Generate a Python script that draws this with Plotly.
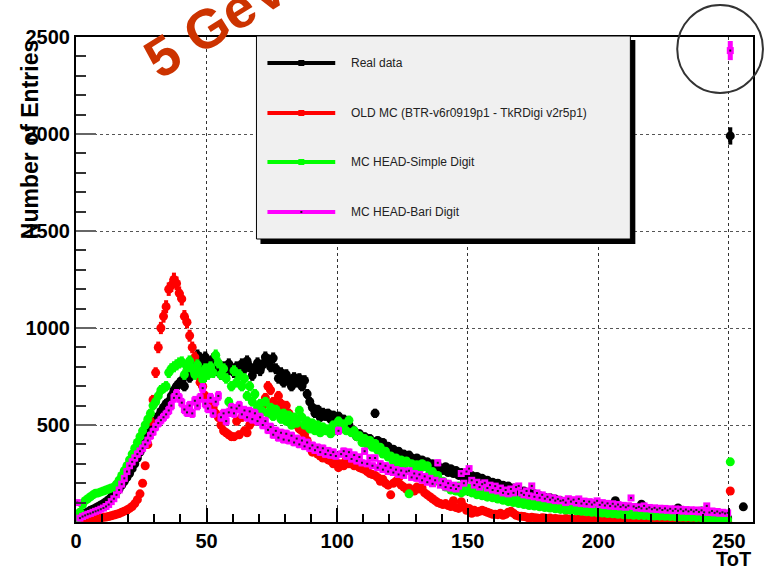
import plotly.graph_objects as go

# ---------------- data (ToT histogram, bins 0..255) ----------------
tot_bins = list(range(256))

real_data = [
    20, 30, 38, 45, 52, 60, 66, 72, 80, 88,
    95, 105, 115, 128, 140, 155, 170, 190, 210, 230,
    250, 275, 300, 330, 360, 390, 420, 450, 475, 500,
    520, 545, 570, 590, 610, 620, 650, 680, 700, 715,
    730, 700, 770, 745, 800, 830, 860, 845, 815, 850,
    825, 790, 840, 780, 815, 760, 800, 770, 815, 790,
    770, 800, 760, 815, 790, 830, 800, 755, 790, 820,
    780, 810, 850, 835, 800, 845, 790, 740, 770, 720,
    760, 730, 700, 745, 720, 740, 700, 730, 660, 620,
    590, 560, 580, 540, 565, 545, 560, 530, 550, 520,
    545, 510, 530, 490, 500, 465, 470, 440, 455, 430,
    440, 420, 430, 405, 560, 420, 395, 410, 380, 390,
    360, 375, 350, 365, 340, 350, 320, 345, 330, 310,
    330, 300, 320, 295, 310, 280, 300, 275, 290, 270,
    265, 285, 255, 275, 250, 265, 240, 255, 225, 250,
    230, 240, 215, 235, 210, 225, 200, 215, 195, 205,
    190, 200, 180, 190, 170, 185, 160, 175, 150, 165,
    150, 160, 140, 150, 135, 145, 125, 135, 118, 128,
    115, 125, 105, 118, 100, 110, 95, 105, 90, 98,
    88, 96, 82, 92, 80, 88, 76, 85, 74, 82,
    72, 80, 70, 78, 68, 75, 110, 72, 64, 70,
    62, 70, 60, 68, 58, 66, 92, 64, 56, 63,
    55, 62, 54, 60, 52, 58, 50, 57, 48, 56,
    72, 54, 46, 52, 45, 50, 44, 49, 42, 57,
    40, 46, 38, 44, 36, 42, 34, 30, 26, 21,
    1990, None, None, None, None, 78,
]

old_mc = [
    5, 8, 10, 12, 14, 15, 17, 18, 20, 22,
    24, 26, 28, 32, 36, 40, 44, 50, 56, 62,
    70, 80, 95, 115, 145, 200, 290, 400, 520, 630,
    770, 900, 1000, 1060, 1110, 1200, 1220, 1250, 1230, 1180,
    1150, 1060, 1030, 960, 900, 850, 760, 720, 700, 650,
    640, 610, 590, 560, 540, 500, 470, 460, 450, 440,
    440, 520, 450, 540, 470, 460, 500, 560, 520, 540,
    560, 600, 640, 700, 680, 620, 600, 650, 610, 580,
    600, 560, 540, 520, 500, 480, 470, 450, 420, 390,
    360, 380, 350, 340, 330, 345, 320, 315, 300, 310,
    280, 300, 290, 320, 300, 330, 290, 300, 280, 275,
    270, 260, 250, 245, 240, 230, 210, 220, 200, 190,
    140, 200, 210, 225, 190, 180, 170, 175, 165, 160,
    180, 170, 175, 150, 140, 130, 120, 110, 100, 95,
    90, 95, 85, 80, 110, 75, 70, 105, 80, 60,
    70, 45, 60, 50, 55, 60, 55, 50, 45, 40,
    40, 38, 45, 35, 40, 50, 55, 45, 35, 30,
    30, 28, 25, 20, 25, 22, 20, 18, 22, 20,
    18, 20, 15, 18, 16, 15, 14, 18, 15, 12,
    14, 12, 15, 13, 12, 10, 14, 12, 10, 12,
    10, 12, 14, 10, 9, 11, 10, 12, 9, 8,
    10, 9, 8, 12, 9, 8, 10, 7, 9, 8,
    8, 10, 7, 8, 9, 6, 8, 7, 6, 8,
    7, 6, 8, 6, 7, 5, 6, 7, 5, 6,
    5, 6, 5, 4, 6, 5, 4, 5, 4, 3,
    160, None, None, None, None, None,
]

simple_digit = [
    15, 50, 90, 110, 120, 130, 140, 148, 150, 155,
    160, 165, 170, 175, 180, 195, 215, 240, 265, 290,
    320, 350, 380, 410, 440, 470, 500, 530, 560, 600,
    620, 650, 680, 690, 700, 770, 790, 800, 810, 820,
    825, 760, 800, 830, 790, 760, 810, 770, 735, 790,
    760, 800, 770, 860, 820, 760, 790, 740, 620, 700,
    780, 720, 760, 700, 740, 650, 700, 620, 660, 590,
    610, 570, 620, 560, 590, 545, 580, 560, 530, 560,
    520, 550, 500, 540, 510, 575, 540, 500, 520, 480,
    510, 470, 500, 460, 490, 470, 480, 455, 500, 470,
    520, 480, 505, 470, 525, 460, 470, 440, 445, 410,
    430, 400, 420, 385, 405, 370, 385, 350, 365, 335,
    340, 310, 330, 300, 320, 290, 315, 145, 300, 280,
    295, 270, 300, 285, 290, 255, 260, 230, 240, 200,
    210, 180, 195, 165, 180, 160, 185, 150, 178, 160,
    175, 150, 168, 140, 162, 135, 155, 128, 150, 125,
    140, 118, 135, 112, 128, 105, 122, 100, 115, 95,
    110, 90, 105, 85, 100, 82, 96, 78, 92, 75,
    88, 72, 84, 68, 80, 65, 77, 62, 74, 60,
    70, 58, 67, 55, 64, 53, 62, 50, 60, 48,
    57, 46, 55, 44, 53, 42, 51, 40, 49, 38,
    47, 37, 45, 35, 44, 34, 42, 33, 41, 32,
    40, 31, 38, 30, 37, 29, 36, 28, 35, 27,
    34, 26, 33, 25, 31, 24, 30, 23, 28, 22,
    27, 21, 25, 20, 23, 18, 21, 16, 18, 12,
    310, None, None, None, None, None,
]

bari_digit = [
    100, 20, 28, 34, 40, 44, 50, 55, 60, 66,
    72, 80, 90, 105, 120, 140, 165, 195, 225, 260,
    290, 310, 330, 350, 365, 380, 400, 420, 445, 465,
    490, 510, 525, 540, 555, 575, 600, 640, 660, 640,
    615, 580, 565, 600, 560, 625, 600, 640, 690, 610,
    585, 640, 560, 620, 650, 540, 560, 520, 565, 590,
    560, 585, 600, 555, 575, 540, 570, 530, 560, 520,
    540, 500, 520, 475, 490, 450, 470, 435, 460, 425,
    455, 420, 445, 410, 430, 400, 420, 390, 410, 380,
    395, 370, 385, 360, 380, 350, 368, 345, 360, 340,
    470, 350, 365, 340, 360, 325, 345, 315, 335, 305,
    365, 300, 330, 290, 330, 280, 300, 270, 290, 260,
    280, 255, 270, 245, 265, 240, 260, 264, 230, 250,
    225, 245, 215, 235, 205, 225, 197, 215, 305, 190,
    210, 180, 200, 175, 190, 170, 185, 250, 200, 260,
    275, 215, 190, 205, 180, 195, 202, 175, 190, 165,
    185, 160, 175, 150, 165, 145, 170, 150, 180, 186,
    150, 140, 160, 135, 186, 130, 150, 125, 140, 120,
    130, 115, 125, 110, 118, 109, 112, 100, 120, 105,
    115, 98, 119, 95, 108, 92, 105, 90, 100, 109,
    88, 100, 85, 96, 82, 94, 80, 90, 78, 86,
    76, 84, 124, 80, 72, 78, 70, 83, 68, 75,
    66, 73, 64, 71, 62, 70, 60, 68, 58, 67,
    58, 66, 56, 64, 55, 63, 54, 62, 52, 60,
    50, 83, 49, 57, 47, 54, 45, 50, 44, 47,
    2430, None, None, None, None, None,
]

series_names = ["Real data", "OLD MC (BTR-v6r0919p1 - TkRDigi v2r5p1)",
                "MC HEAD-Simple Digit", "MC HEAD-Bari Digit"]
series_colors = ["#000000", "#ff0000", "#00ff00", "#ff00ff"]

# ---------------- figure ----------------
W, H = 764, 569
L, R, T, B = 76, 755, 37, 522


def px(x):
    return (x - L) / (R - L)


def py(y):
    return (B - y) / (B - T)


centers = [b + 0.5 for b in tot_bins]


def errs(vals):
    return [None if v is None else v ** 0.5 for v in vals]


fig = go.Figure()
all_series = [real_data, old_mc, simple_digit, bari_digit]
for i, vals in enumerate(all_series[:3]):
    fig.add_trace(go.Scatter(
        x=centers, y=vals, mode="markers", name=series_names[i],
        marker=dict(symbol="circle", size=9, color=series_colors[i]),
        error_y=dict(type="data", array=errs(vals), thickness=4, width=0,
                     color=series_colors[i]),
        showlegend=False))

fig.add_trace(go.Scatter(
    x=centers, y=bari_digit, mode="markers", name=series_names[3],
    marker=dict(symbol="square", size=7, color=series_colors[3]),
    error_y=dict(type="data", array=errs(bari_digit), thickness=5, width=0,
                 color=series_colors[3]),
    showlegend=False))
fig.add_trace(go.Scatter(
    x=centers, y=bari_digit, mode="markers",
    marker=dict(symbol="square", size=2, color="#202020"),
    showlegend=False, hoverinfo="skip"))

shapes = []
# legend box with shadow
shapes.append(dict(type="rect", xref="paper", yref="paper", layer="above",
                   x0=px(261), x1=px(637), y0=py(244), y1=py(40),
                   fillcolor="#000000", line=dict(width=0)))
shapes.append(dict(type="rect", xref="paper", yref="paper", layer="above",
                   x0=px(257), x1=px(632), y0=py(239), y1=py(36),
                   fillcolor="#f0f0f0", line=dict(color="#000000", width=1)))
leg_y = [63, 113, 162, 212]
annotations = []
for i, yc in enumerate(leg_y):
    shapes.append(dict(type="line", xref="paper", yref="paper", layer="above",
                       x0=px(268), x1=px(336), y0=py(yc), y1=py(yc),
                       line=dict(color=series_colors[i], width=4)))
    if i < 3:
        shapes.append(dict(type="rect", xref="paper", yref="paper", layer="above",
                           x0=px(299), x1=px(305), y0=py(yc + 3), y1=py(yc - 3),
                           fillcolor=series_colors[i], line=dict(width=0)))
    else:
        shapes.append(dict(type="rect", xref="paper", yref="paper", layer="above",
                           x0=px(301), x1=px(303), y0=py(yc + 1), y1=py(yc - 1),
                           fillcolor="#202020", line=dict(width=0)))
    annotations.append(dict(xref="paper", yref="paper", x=px(350), y=py(yc),
                            xanchor="left", yanchor="middle", showarrow=False,
                            text=series_names[i],
                            font=dict(family="Liberation Sans", size=12, color="#222222")))

# circle highlight
shapes.append(dict(type="circle", xref="paper", yref="paper", layer="above",
                   x0=px(679), x1=px(765), y0=py(93), y1=py(5),
                   line=dict(color="#333333", width=2)))

annotations.append(dict(xref="paper", yref="paper", x=px(30), y=py(140),
                        xanchor="center", yanchor="middle",
                        textangle=-90, showarrow=False, text="Number of Entries",
                        font=dict(family="Liberation Sans", size=23, color="#000000",
                                  weight="bold")))
annotations.append(dict(xref="paper", yref="paper", x=px(735), y=py(559),
                        xanchor="center", yanchor="middle",
                        showarrow=False, text="ToT",
                        font=dict(family="Liberation Sans", size=20, color="#000000",
                                  weight="bold")))
annotations.append(dict(xref="paper", yref="paper", x=px(216), y=py(23),
                        xanchor="center", yanchor="middle",
                        textangle=-32, showarrow=False, text="5 GeV",
                        font=dict(family="Liberation Sans", size=55, color="#CC3300",
                                  weight="bold")))

tick_font = dict(family="Liberation Sans", size=20, color="#000000", weight="bold")
fig.update_layout(
    width=W, height=H,
    margin=dict(l=L, r=W - R, t=T, b=H - B, pad=0),
    paper_bgcolor="white", plot_bgcolor="white",
    shapes=shapes, annotations=annotations,
    xaxis=dict(range=[0, 259.2], showline=True, linewidth=2, linecolor="black",
               mirror=True, ticks="inside", ticklen=14, tickwidth=2,
               tickcolor="black", tickmode="linear", tick0=0, dtick=50,
               tickfont=tick_font, showgrid=True, gridcolor="#333333", griddash="dot",
               gridwidth=1, zeroline=False,
               minor=dict(dtick=10, tick0=0, ticks="inside", ticklen=8, tickwidth=1.5,
                          tickcolor="black", showgrid=False)),
    yaxis=dict(range=[0, 2500], showline=True, linewidth=2, linecolor="black",
               mirror=True, ticks="inside", ticklen=20, tickwidth=2,
               tickcolor="#666666", tickmode="linear", tick0=0, dtick=500,
               labelalias={"0": " "},
               tickfont=tick_font, showgrid=True, gridcolor="#555555", griddash="dot",
               gridwidth=1, zeroline=False,
               minor=dict(dtick=100, tick0=0, ticks="inside", ticklen=10, tickwidth=2,
                          tickcolor="#333333", showgrid=False)),
)

fig.write_html("out.html")
